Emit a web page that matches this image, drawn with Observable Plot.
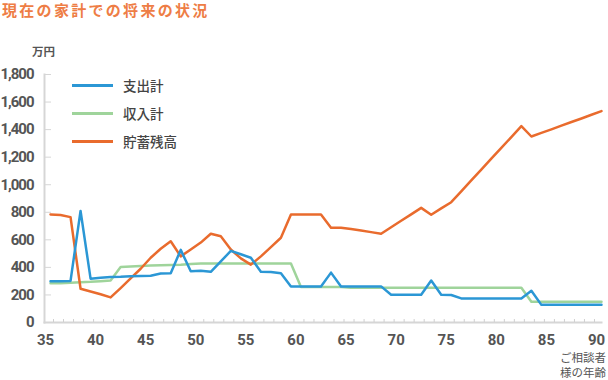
<!DOCTYPE html>
<html>
<head>
<meta charset="utf-8">
<script src="https://cdn.jsdelivr.net/npm/d3@7"></script>
<script src="https://cdn.jsdelivr.net/npm/@observablehq/plot@0.6"></script>
<style>
  html, body { margin: 0; padding: 0; background: #fff; }
  #wrap { position: relative; width: 608px; height: 380px; overflow: hidden; font-family: "Noto Sans CJK JP", sans-serif; }
  #title { height: 24px; line-height: 20px; padding-left: 2px; font-size: 15px; font-weight: 700; letter-spacing: 2.3px; color: #ee7d45; }
  #chart { position: relative; width: 608px; height: 356px; }
  #chart svg g[aria-label="y-axis tick label"] text { letter-spacing: -1px; }
  .ov { position: absolute; white-space: nowrap; }
  .legline { position: absolute; height: 3px; width: 41px; left: 72px; }
  .legtxt { position: absolute; left: 123px; font-size: 13.5px; line-height: 16px; color: #444; font-weight: 500; }
</style>
</head>
<body>
<div id="wrap">
  <div id="title">現在の家計での将来の状況</div>
  <div id="chart"></div>
</div>
<script>
const ages = [35,36,37,38,39,40,41,42,43,44,45,46,47,48,49,50,51,52,53,54,55,56,57,58,59,60,61,62,63,64,65,66,67,68,69,70,71,72,73,74,75,76,77,78,79,80,81,82,83,84,85,86,87,88,89,90];

// 支出計
const spending = [300,300,302,810,318,325,330,332,336,338,340,355,358,527,372,375,368,443,520,495,470,368,366,358,262,262,262,262,362,262,262,262,262,262,202,202,202,202,305,202,200,175,175,175,175,175,175,175,230,128,128,128,128,128,128,128];

// 収入計
const income = [285,285,288,292,295,300,305,402,406,410,413,416,418,420,424,428,428,428,428,428,428,428,428,428,428,258,258,258,258,258,252,252,252,252,252,252,252,252,252,252,252,252,252,252,252,252,252,252,150,150,150,150,150,150,150,150];

// 貯蓄残高
const savings = [784,780,765,245,225,205,182,250,320,390,470,535,590,480,530,580,644,626,530,465,420,480,547,615,784,784,784,784,687,687,678,668,656,644,691,738,785,832,782,828,873,952,1031,1110,1189,1267,1346,1425,1350,1376,1402,1429,1455,1481,1508,1534];

const seriesNames = ["支出計", "収入計", "貯蓄残高"];
const seriesColors = ["#2b97d5", "#9fd49b", "#e96b2d"];

const xTickLabels = [35,40,45,50,55,60,65,70,75,80,85,90];
const yTickValues = [0,200,400,600,800,1000,1200,1400,1600,1800];
const yUnit = "万円";
const xUnit = ["ご相談者", "様の年齢"];

const rows = ages.map((a, i) => ({age: a, spending: spending[i], income: income[i], savings: savings[i]}));

const minorTicks = ages.slice(0, ages.length - 1);

const plot = Plot.plot({
  width: 608,
  height: 356,
  marginTop: 50,
  marginBottom: 58,
  marginLeft: 44,
  marginRight: 7,
  x: {domain: [35, 90], insetLeft: 6},
  y: {domain: [0, 1800]},
  style: {fontFamily: "Roboto, sans-serif", background: "#fff", color: "#555"},
  marks: [
    Plot.frame({anchor: "left", stroke: "#d6d6d6", strokeWidth: 2}),
    Plot.frame({anchor: "bottom", stroke: "#d6d6d6", strokeWidth: 2}),
    Plot.axisY(yTickValues, {tickSize: -7, fill: "none", stroke: "#d6d6d6", label: null}),
    Plot.axisX(minorTicks, {tickSize: -3, fill: "none", stroke: "#d0d0d0", dx: 3, label: null}),
    Plot.axisY(yTickValues, {tickSize: 0, tickPadding: 11, tickFormat: d3.format(","), fontSize: 15, fontWeight: "bold", fill: "#555", label: null}),
    Plot.axisX(xTickLabels, {tickSize: 0, tickPadding: 12, dx: -5, fontSize: 15, fontWeight: "bold", fill: "#555", label: null}),
    Plot.line(rows, {x: "age", y: "income", stroke: seriesColors[1], strokeWidth: 2.5}),
    Plot.line(rows, {x: "age", y: "savings", stroke: seriesColors[2], strokeWidth: 2.5}),
    Plot.line(rows, {x: "age", y: "spending", stroke: seriesColors[0], strokeWidth: 2.5})
  ]
});

const chart = document.getElementById("chart");
chart.appendChild(plot);

// y unit
const yu = document.createElement("div");
yu.className = "ov";
yu.style.cssText = "left:32px;top:20px;font-size:11.5px;font-weight:700;color:#555;line-height:14px;";
yu.textContent = yUnit;
chart.appendChild(yu);

// x unit
const xu = document.createElement("div");
xu.className = "ov";
xu.style.cssText = "right:2px;top:326px;font-size:11.5px;color:#555;line-height:15px;text-align:right;";
xu.innerHTML = xUnit.join("<br>");
chart.appendChild(xu);

// legend
const legendTops = [61, 89, 117];
seriesNames.forEach((name, i) => {
  const ln = document.createElement("div");
  ln.className = "legline";
  ln.style.top = (legendTops[i] - 1.5) + "px";
  ln.style.background = seriesColors[i];
  chart.appendChild(ln);
  const tx = document.createElement("div");
  tx.className = "legtxt";
  tx.style.top = (legendTops[i] - 8) + "px";
  tx.textContent = name;
  chart.appendChild(tx);
});
</script>
</body>
</html>
